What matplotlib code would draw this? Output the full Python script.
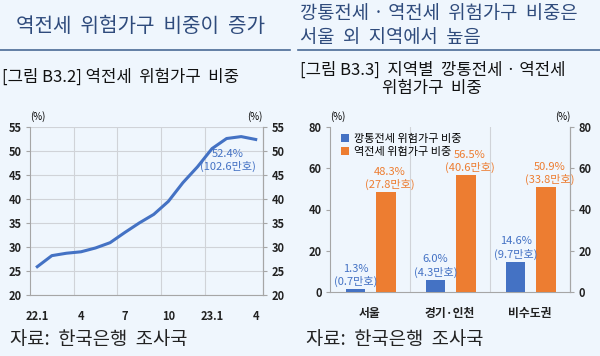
import numpy as np
import matplotlib
matplotlib.use('Agg')
import matplotlib.pyplot as plt

plt.rcParams['font.family'] = ['Noto Sans CJK KR', 'DejaVu Sans']
plt.rcParams['axes.unicode_minus'] = False

# 데이터 — 역전세 위험가구 비중 (22.1 ~ 23.4, 월별)
months = ['22.1', '2', '3', '4', '5', '6', '7', '8', '9', '10', '11', '12',
          '23.1', '2', '3', '4']
month_ticks = ['22.1', '4', '7', '10', '23.1', '4']
reverse_share = [25.9, 28.2, 28.7, 29.0, 29.8, 30.9, 33.0, 35.0, 36.8, 39.5,
                 43.4, 46.7, 50.5, 52.6, 53.0, 52.4]

# 데이터 — 지역별 비중
regions = ['서울', '경기·인천', '비수도권']
kkang_share = [1.3, 6.0, 14.6]
kkang_hh = [0.7, 4.3, 9.7]
yeok_share = [48.3, 56.5, 50.9]
yeok_hh = [27.8, 40.6, 33.8]

BG = '#EFF6FD'
BLUE = '#4472C4'
ORANGE = '#ED7D31'
TITLE_C = '#2F4B7C'
GRID = '#D0D3D8'
SPINE = '#A6A6A6'
TICK_FS = 8

W, H = 600, 356
fig = plt.figure(figsize=(6, 3.56), dpi=100, facecolor=BG)


def box(x0, y0, x1, y1):
    # 픽셀 좌표 -> figure 비율
    return [x0 / W, 1 - y1 / H, (x1 - x0) / W, (y1 - y0) / H]


# 제목 / 구분선
fig.text(140 / W, 1 - 27 / H, '역전세  위험가구  비중이  증가', ha='center', va='center',
         fontsize=14.5, color=TITLE_C)
fig.text(300 / W, 1 - 14 / H, '깡통전세 · 역전세  위험가구  비중은', ha='left', va='center',
         fontsize=13.5, color=TITLE_C)
fig.text(300 / W, 1 - 38 / H, '서울  외  지역에서  높음', ha='left', va='center',
         fontsize=13.5, color=TITLE_C)
fig.add_artist(plt.Line2D([0, 290 / W], [1 - 50 / H] * 2, color='#4A6A95', lw=1.2))
fig.add_artist(plt.Line2D([298 / W, 1], [1 - 50 / H] * 2, color='#4A6A95', lw=1.2))

fig.text(2 / W, 1 - 77 / H, '[그림 B3.2] 역전세  위험가구  비중', ha='left', va='center',
         fontsize=12, color='#111111')
fig.text(300 / W, 1 - 70 / H, '[그림 B3.3]  지역별  깡통전세 · 역전세', ha='left', va='center',
         fontsize=12, color='#111111')
fig.text(432 / W, 1 - 88 / H, '위험가구  비중', ha='center', va='center',
         fontsize=12, color='#111111')

fig.text(10 / W, 1 - 340 / H, '자료:  한국은행  조사국', ha='left', va='center',
         fontsize=13.5, color='#222222')
fig.text(306 / W, 1 - 340 / H, '자료:  한국은행  조사국', ha='left', va='center',
         fontsize=13.5, color='#222222')


def style_axis(ax):
    ax.set_facecolor(BG)
    ax.spines['top'].set_visible(False)
    for s in ['left', 'right', 'bottom']:
        ax.spines[s].set_color(SPINE)
        ax.spines[s].set_linewidth(0.8)
    ax.tick_params(axis='y', length=3, color=SPINE, labelsize=TICK_FS, labelcolor='#222222', pad=3)
    ax.tick_params(axis='x', length=0, labelsize=TICK_FS, labelcolor='#222222', pad=11)


def right_axis(ax, lo, hi, step):
    axr = ax.twinx()
    axr.set_ylim(lo, hi)
    axr.set_yticks(range(lo, hi + 1, step))
    for s in ['top', 'left', 'bottom']:
        axr.spines[s].set_visible(False)
    axr.spines['right'].set_color(SPINE)
    axr.spines['right'].set_linewidth(0.8)
    axr.tick_params(axis='y', length=3, color=SPINE, labelsize=TICK_FS, labelcolor='#222222', pad=3)
    for t in axr.get_yticklabels():
        t.set_fontweight('bold')
    return axr


# ---- 왼쪽: 선 그래프 ----
ax1 = fig.add_axes(box(30, 127, 263, 295))
style_axis(ax1)
x = np.arange(len(months))
ax1.plot(x, reverse_share, color=BLUE, lw=2.2, zorder=3)
ax1.set_xlim(-0.5, len(months) - 0.5)
ax1.set_ylim(20, 55)
ax1.set_yticks(range(20, 56, 5))
tick_pos = [i for i in range(len(months)) if i % 3 == 0]
ax1.set_xticks(tick_pos)
ax1.set_xticklabels(month_ticks, fontweight='bold')
for t in ax1.get_yticklabels():
    t.set_fontweight('bold')
for b in [2.5, 5.5, 8.5, 11.5]:
    ax1.axvline(b, color=GRID, lw=0.8, zorder=1)
ax1.grid(axis='y', color=GRID, lw=0.8, zorder=1)
ax1.set_axisbelow(True)
right_axis(ax1, 20, 55, 5)
ax1.text(0, 1.03, '(%)', transform=ax1.transAxes, ha='left', va='bottom', fontsize=7)
ax1.text(1, 1.03, '(%)', transform=ax1.transAxes, ha='right', va='bottom', fontsize=7)
last = len(reverse_share) - 1
ax1.annotate(f'{reverse_share[last]}%\n(102.6만호)', (last, reverse_share[last]),
             xytext=(-20, -7), textcoords='offset points', ha='center', va='top',
             fontsize=8, color=BLUE, linespacing=1.2)

# ---- 오른쪽: 막대 그래프 ----
ax2 = fig.add_axes(box(330, 127, 570, 292))
style_axis(ax2)
xr = np.arange(len(regions))
bw = 0.24
b1 = ax2.bar(xr - 0.18, kkang_share, bw, color=BLUE, label='깡통전세 위험가구 비중', zorder=3)
b2 = ax2.bar(xr + 0.2, yeok_share, bw, color=ORANGE, label='역전세 위험가구 비중', zorder=3)
ax2.set_xlim(-0.5, len(regions) - 0.5)
ax2.set_ylim(0, 80)
ax2.set_yticks(range(0, 81, 20))
ax2.set_xticks(xr)
ax2.set_xticklabels(regions, fontweight='bold', fontsize=8.5)
for t in ax2.get_yticklabels():
    t.set_fontweight('bold')
for b in [0.5, 1.5]:
    ax2.axvline(b, color=GRID, lw=0.8, zorder=1)
for rect, v, hh in zip(b1, kkang_share, kkang_hh):
    ax2.annotate(f'{v}%\n({hh}만호)', (rect.get_x() + rect.get_width() / 2, v),
                 xytext=(0, 1.5), textcoords='offset points', ha='center', va='bottom',
                 fontsize=8, color=BLUE, linespacing=1.25)
for rect, v, hh in zip(b2, yeok_share, yeok_hh):
    ax2.annotate(f'{v}%\n({hh}만호)', (rect.get_x() + rect.get_width() / 2, v),
                 xytext=(2.5, 1.5), textcoords='offset points', ha='center', va='bottom',
                 fontsize=8, color=ORANGE, linespacing=1.25)
ax2.legend(loc='upper left', frameon=False, fontsize=8, handlelength=0.7, handleheight=0.7,
           handletextpad=0.4, labelspacing=0.3, borderaxespad=0.2, bbox_to_anchor=(0.02, 1.0))
right_axis(ax2, 0, 80, 20)
ax2.text(0, 1.03, '(%)', transform=ax2.transAxes, ha='left', va='bottom', fontsize=7)
ax2.text(1, 1.03, '(%)', transform=ax2.transAxes, ha='right', va='bottom', fontsize=7)

fig.savefig('out.png', dpi=100, facecolor=BG)
